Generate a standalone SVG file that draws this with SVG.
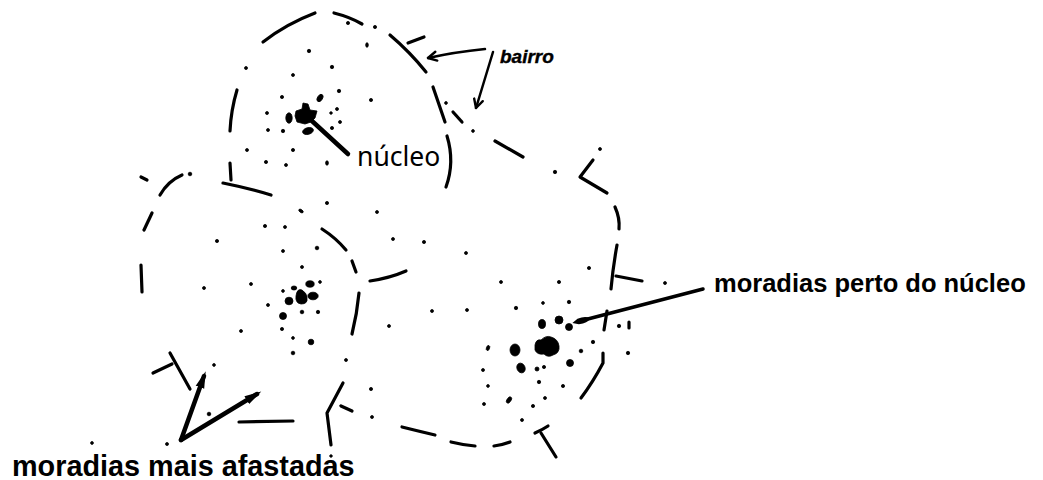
<svg xmlns="http://www.w3.org/2000/svg" width="1043" height="480" viewBox="0 0 1043 480">
<style>
.s{fill:none;stroke:#000;stroke-width:3.2;stroke-linecap:round;stroke-linejoin:round}
.d{fill:#000;stroke:#000;stroke-width:0.8;stroke-linejoin:round}
.c{fill:none;stroke:#000;stroke-linecap:round;stroke-linejoin:round}
.lbl{font-family:"Liberation Sans",Arial,sans-serif;font-weight:bold;fill:#000}
</style>
<defs>
<marker id="open" viewBox="0 0 12 12" refX="10.5" refY="6" markerWidth="12" markerHeight="12" markerUnits="userSpaceOnUse" orient="auto"><path d="M2,1.5 L10.5,6 L2,10.5" fill="none" stroke="#000" stroke-width="2.4" stroke-linecap="round" stroke-linejoin="round"/></marker>
<marker id="head" viewBox="0 0 18 10" refX="12" refY="5" markerWidth="18" markerHeight="10" markerUnits="userSpaceOnUse" orient="auto"><path d="M0,0.5 L17,5 L0,9.5 Z" fill="#000"/></marker>
<marker id="head2" viewBox="0 0 18 8" refX="6" refY="4" markerWidth="18" markerHeight="8" markerUnits="userSpaceOnUse" orient="auto"><path d="M0,4 Q3,0 12,1.2 L18,4 L12,6.8 Q3,8 0,4 Z" fill="#000"/></marker>
</defs>

<g id="bairro-1">
<path class="s" d="M263,42 Q286,24 315,13"/>
<path class="s" d="M334,13 Q350,17 362,24"/>
<path class="s" d="M390,35 Q410,52 426,72"/>
<path class="s" d="M408,43 L424,37"/>
<path class="s" d="M433,87 L445,122"/>
<path class="s" d="M453,112 L462,122"/>
<path class="s" d="M447,136 Q455,162 446,187"/>
<path class="s" d="M237,90 Q231,110 230,131"/>
<path class="s" d="M230,163 L231,180"/>
<path class="s" d="M223,183 Q248,188 271,195"/>
<g class="d">
<circle cx="348" cy="23" r="1.6"/><circle cx="375" cy="27" r="1.6"/><ellipse cx="367" cy="45" rx="1.3" ry="2.3"/>
<circle cx="246" cy="68" r="1.5"/><circle cx="309" cy="51" r="1.7"/><circle cx="332" cy="67" r="1.7"/>
<circle cx="293" cy="75" r="1.5"/><circle cx="339" cy="91" r="1.7"/><circle cx="371" cy="100" r="1.6"/>
<circle cx="282" cy="97" r="1.6"/><circle cx="267" cy="113" r="1.5"/><circle cx="337" cy="109" r="1.5"/>
<circle cx="331" cy="113" r="1.3"/><circle cx="340" cy="122" r="1.5"/><circle cx="332" cy="128" r="1.6"/>
<circle cx="268" cy="130" r="1.5"/><circle cx="283" cy="131" r="1.7"/><circle cx="293" cy="150" r="1.6"/>
<circle cx="247" cy="150" r="1.5"/><circle cx="266" cy="162" r="1.6"/><circle cx="286" cy="165" r="1.5"/>
<ellipse cx="327" cy="163" rx="1.4" ry="2.2"/><circle cx="446" cy="103" r="1.4"/><circle cx="473" cy="131" r="1.4"/>
<path d="M296,111 L302,109 L303,103 L308,104 L310,110 L317,111 L315,118 L311,122 L305,124 L297,122 L295,116 Z"/>
<ellipse cx="289" cy="118" rx="3.2" ry="5.2"/>
<ellipse cx="308" cy="131" rx="5.5" ry="3.3" transform="rotate(-15 308 131)"/>
<ellipse cx="320" cy="98" rx="2.5" ry="4" transform="rotate(30 320 98)"/>
</g>
</g>

<g id="bairro-2">
<path class="s" d="M141,177 L147,180"/>
<path class="s" d="M160,195 Q168,181 182,175"/>
<path class="s" d="M152,213 L144,230"/>
<path class="s" d="M141,265 L142,292"/>
<path class="s" d="M322,229 Q336,238 346,250"/>
<path class="s" d="M352,261 L356,272"/>
<path class="s" d="M359,293 Q357,314 352,334"/>
<path class="s" d="M170,353 L190,389"/>
<path class="s" d="M153,373 L172,364"/>
<path class="s" d="M239,422 L293,421"/>
<path class="s" d="M343,383 L327,413 L331,445"/>
<path class="s" d="M341,406 L352,411"/>
<g class="d">
<circle cx="190" cy="174" r="1.8"/><circle cx="327" cy="203" r="1.6"/><ellipse cx="301" cy="211" rx="2.5" ry="1.4" transform="rotate(35 301 211)"/>
<circle cx="377" cy="212" r="1.5"/><circle cx="217" cy="241" r="1.6"/><circle cx="265" cy="226" r="1.6"/>
<circle cx="285" cy="227" r="1.5"/><circle cx="393" cy="239" r="1.5"/><circle cx="283" cy="251" r="1.5"/>
<circle cx="302" cy="267" r="1.5"/><circle cx="317" cy="248" r="1.8"/><circle cx="204" cy="288" r="1.5"/>
<circle cx="251" cy="284" r="1.5"/><circle cx="268" cy="305" r="1.5"/><circle cx="241" cy="331" r="1.5"/>
<circle cx="282" cy="329" r="1.6"/><circle cx="293" cy="338" r="1.4"/><circle cx="311" cy="342" r="2.8"/>
<circle cx="293" cy="353" r="1.8"/><circle cx="346" cy="360" r="1.5"/><circle cx="214" cy="365" r="1.4"/>
<circle cx="371" cy="389" r="1.6"/><circle cx="372" cy="417" r="1.5"/><circle cx="389" cy="326" r="1.5"/>
<circle cx="167" cy="444" r="1.5"/><circle cx="209" cy="414" r="1.8"/><circle cx="92" cy="443" r="1.4"/>
<circle cx="320" cy="282" r="1.4"/><circle cx="283" cy="291" r="1.4"/><circle cx="302" cy="312" r="1.8"/>
<circle cx="318" cy="312" r="1.7"/><circle cx="331" cy="456" r="1.3"/>
<ellipse cx="310" cy="284" rx="4.2" ry="3.2"/>
<ellipse cx="294" cy="288" rx="2.8" ry="2"/>
<path d="M296,296 Q297,288 302,290 Q307,293 307,298 Q308,304 301,304 Q295,303 296,296 Z"/>
<ellipse cx="313" cy="296" rx="5.2" ry="3.8"/>
<ellipse cx="289" cy="301" rx="4" ry="3.8"/>
<circle cx="283" cy="316" r="3.5"/>
</g>
</g>

<g id="bairro-3">
<path class="s" d="M370,281 Q390,278 406,271"/>
<path class="s" d="M495,141 L523,157"/>
<path class="s" d="M593,160 L580,177 L607,193"/>
<path class="s" d="M615,207 Q620,218 619,229"/>
<path class="s" d="M617,245 Q613,267 611,289"/>
<path class="s" d="M616,276 L642,281"/>
<path class="s" d="M603,353 L603,363 Q593,382 581,398"/>
<path class="s" d="M535,433 Q542,430 548,426"/>
<path class="s" d="M541,433 L556,457"/>
<path class="s" d="M402,427 Q418,431 435,435"/>
<path class="s" d="M451,442 Q463,445 475,446"/>
<path class="s" d="M494,446 Q502,445 510,442"/>
<path class="s" d="M607,311 L604,330"/>
<path class="s" d="M629,322 L629,328"/>
<g class="d">
<circle cx="555" cy="172" r="1.7"/><circle cx="600" cy="149" r="1.5"/><circle cx="424" cy="242" r="1.6"/>
<circle cx="466" cy="253" r="1.5"/><circle cx="501" cy="282" r="1.5"/><circle cx="559" cy="282" r="1.6"/>
<circle cx="589" cy="268" r="1.6"/><circle cx="432" cy="311" r="1.5"/><circle cx="467" cy="310" r="1.5"/>
<circle cx="516" cy="308" r="1.7"/><circle cx="543" cy="303" r="1.4"/><circle cx="569" cy="302" r="1.7"/>
<circle cx="665" cy="283" r="1.5"/>
<circle cx="483" cy="370" r="1.5"/><circle cx="488" cy="386" r="1.4"/><circle cx="484" cy="404" r="1.5"/>
<circle cx="533" cy="406" r="1.6"/><circle cx="545" cy="398" r="1.5"/><circle cx="563" cy="386" r="1.6"/>
<circle cx="581" cy="351" r="1.8"/><circle cx="593" cy="342" r="1.7"/><circle cx="628" cy="353" r="1.7"/>
<circle cx="619" cy="326" r="1.7"/><circle cx="537" cy="369" r="2"/><circle cx="544" cy="367" r="1.6"/>
<circle cx="539" cy="382" r="1.7"/><circle cx="522" cy="420" r="1.5"/>
<ellipse cx="488" cy="348" rx="1.6" ry="2.6" transform="rotate(20 488 348)"/>
<ellipse cx="509" cy="400" rx="2" ry="3.5" transform="rotate(35 509 400)"/>
<ellipse cx="542" cy="324" rx="3.5" ry="4.5"/>
<circle cx="559" cy="320" r="4"/>
<circle cx="569" cy="327" r="3.5"/>
<circle cx="570" cy="363" r="3.5"/>
<ellipse cx="515" cy="350" rx="5" ry="6"/>
<ellipse cx="521" cy="368" rx="4" ry="5" transform="rotate(-25 521 368)"/>
<path d="M535,345 Q536,339 541,340 Q546,335 551,337 Q558,339 559,346 Q560,353 553,355 Q548,358 544,354 Q537,355 535,350 Z"/>
</g>
</g>

<g id="label-bairro"><text x="500" y="63" font-family="Liberation Sans, Arial, sans-serif" font-weight="bold" font-style="italic" font-size="19" stroke="#000" stroke-width="0.4">bairro</text></g>
<g id="label-nucleo"><text x="357" y="166" font-family="Noto Sans, Open Sans, sans-serif" font-size="26.5">núcleo</text></g>
<g id="label-perto"><text class="lbl" x="714" y="292" font-size="25.5">moradias perto do núcleo</text></g>
<g id="label-afastadas"><text class="lbl" x="12" y="476" font-size="28.8">moradias mais afastadas</text></g>

<g id="connectors">
<path class="c" stroke-width="2.5" d="M485,49 Q455,52 428,58" marker-end="url(#open)"/>
<path class="c" stroke-width="2.5" d="M493,52 L476,108" marker-end="url(#open)"/>
<path class="c" stroke-width="4.5" d="M348,154 L312,121"/>
<path class="c" stroke-width="3.5" d="M703,289 L584,320" marker-end="url(#head2)"/>
<path class="c" stroke-width="4.5" d="M181,440 L204,376" marker-end="url(#head)"/>
<path class="c" stroke-width="4.5" d="M181,440 L257,394" marker-end="url(#head)"/>
</g>
</svg>
